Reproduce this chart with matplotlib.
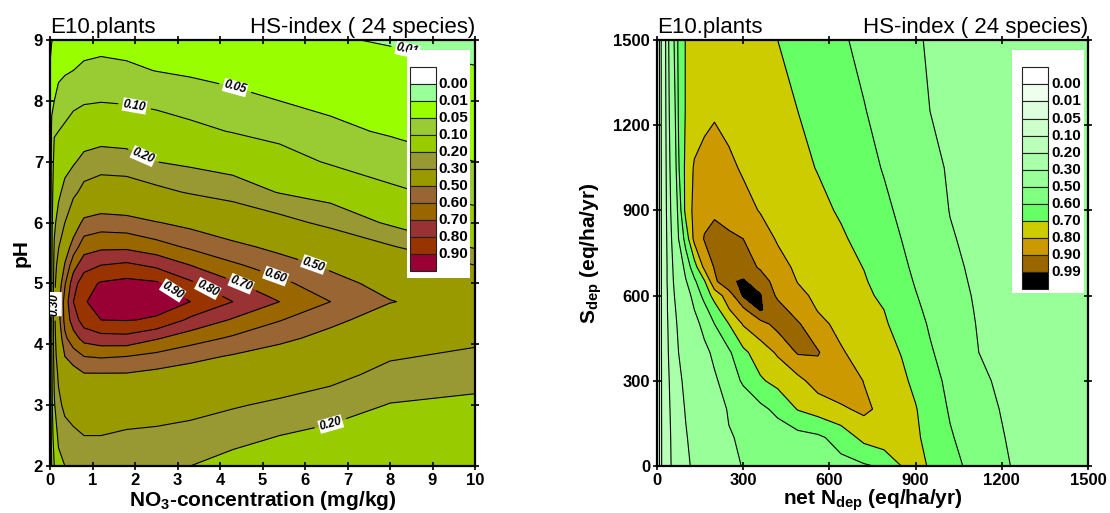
import numpy as np
import matplotlib
matplotlib.use("Agg")
import matplotlib.pyplot as plt
from matplotlib.patches import Rectangle

plt.rcParams['font.family'] = ['Liberation Sans', 'DejaVu Sans']
plt.rcParams['font.weight'] = 'bold'
plt.rcParams['mathtext.fontset'] = 'custom'
plt.rcParams['mathtext.rm'] = 'Liberation Sans:bold'
plt.rcParams['mathtext.bf'] = 'Liberation Sans:bold'
plt.rcParams['mathtext.default'] = 'rm'

# ---------------- left panel: HS-index vs NO3 and pH ----------------
no3 = [0, 0.04, 0.1, 0.2, 0.35, 0.55, 0.8, 1.2, 1.8, 2.5, 3.3, 4.3, 5.4, 6.6, 8.0, 10.0]
ph = [2.0, 2.5, 3.0, 3.5, 3.8, 4.1, 4.4, 4.7, 5.0, 5.3, 5.6, 6.0, 6.5, 7.0, 7.5, 8.0, 8.5, 9.0]
# one list per NO3 value, going up in pH
hs_left_cols = [
    [.02, .02, .02, .02, .02, .02, .02, .02, .02, .02, .02, .02, .02, .02, .02, .02, .012, .004],
    [.05, .06, .07, .08, .085, .09, .09, .09, .09, .085, .08, .075, .065, .06, .055, .045, .03, .008],
    [.10, .14, .19, .22, .24, .25, .26, .26, .25, .23, .21, .18, .15, .12, .095, .05, .035, .015],
    [.17, .22, .27, .32, .37, .42, .46, .47, .43, .36, .29, .24, .18, .14, .10, .065, .04, .02],
    [.20, .25, .33, .42, .50, .58, .63, .64, .59, .51, .43, .30, .23, .165, .11, .075, .045, .025],
    [.21, .27, .37, .45, .55, .66, .75, .80, .76, .66, .55, .42, .27, .19, .13, .085, .05, .03],
    [.21, .30, .39, .49, .60, .735, .85, .89, .86, .76, .655, .53, .34, .225, .15, .093, .057, .035],
    [.22, .30, .40, .49, .61, .765, .90, .945, .91, .80, .68, .55, .38, .24, .16, .097, .061, .037],
    [.22, .28, .38, .49, .60, .77, .905, .95, .93, .82, .68, .54, .37, .235, .153, .093, .057, .035],
    [.21, .27, .37, .47, .57, .71, .89, .935, .915, .78, .64, .505, .33, .20, .135, .085, .049, .03],
    [.20, .26, .34, .45, .53, .645, .78, .90, .82, .70, .585, .47, .29, .18, .115, .075, .043, .025],
    [.165, .23, .31, .41, .49, .585, .69, .80, .715, .615, .53, .41, .25, .16, .097, .062, .036, .022],
    [.145, .20, .28, .37, .44, .53, .605, .70, .625, .55, .47, .34, .195, .128, .08, .05, .03, .018],
    [.135, .17, .25, .33, .39, .46, .53, .60, .54, .48, .40, .27, .16, .093, .06, .04, .022, .012],
    [.13, .155, .195, .27, .31, .37, .44, .505, .46, .39, .31, .185, .11, .075, .045, .03, .018, .008],
    [.12, .14, .17, .25, .28, .32, .39, .44, .38, .30, .19, .125, .08, .05, .033, .02, .011, .005],
]
levels_left = [0, 0.01, 0.05, 0.10, 0.20, 0.30, 0.50, 0.60, 0.70, 0.80, 0.90, 1.0]
colors_left = ['#99ff99', '#99ff00', '#99cc33', '#99cc00', '#999933', '#999900',
               '#996633', '#996600', '#993333', '#993300', '#990033']
legend_labels_left = ['0.00', '0.01', '0.05', '0.10', '0.20', '0.30', '0.50',
                      '0.60', '0.70', '0.80', '0.90']

# ---------------- right panel: HS-index vs N and S deposition ----------------
ndep = [0, 4, 10, 20, 35, 55, 75, 100, 130, 165, 200, 250, 300, 360, 420, 490,
        560, 640, 720, 790, 850, 900, 950, 1020, 1120, 1250, 1500]
sdep = [0, 100, 200, 300, 400, 500, 550, 600, 650, 700, 800, 900, 1050, 1250, 1500]
# one list per S value, going up in N
hs_right_rows = [
    [0, .03, .072, .117, .167, .214, .243, .279, .319, .362, .406, .469, .505, .517, .529, .543, .556, .572, .588, .614, .70, .731, .691, .631, .561, .489, .40],
    [0, .03, .072, .117, .169, .218, .251, .292, .333, .38, .427, .493, .512, .528, .545, .564, .582, .637, .729, .765, .742, .713, .675, .609, .545, .481, .397],
    [0, .03, .072, .119, .174, .225, .262, .307, .35, .40, .45, .509, .539, .576, .625, .705, .742, .784, .821, .772, .735, .705, .657, .591, .53, .475, .395],
    [0, .03, .072, .12, .18, .233, .278, .324, .372, .428, .484, .55, .613, .688, .729, .771, .845, .87, .797, .755, .718, .681, .633, .578, .516, .468, .392],
    [0, .03, .072, .122, .187, .246, .30, .348, .405, .471, .524, .585, .678, .751, .813, .91, .908, .809, .764, .729, .697, .653, .609, .563, .50, .462, .39],
    [0, .03, .072, .123, .191, .258, .318, .383, .461, .536, .60, .70, .808, .866, .933, .912, .824, .776, .741, .71, .67, .629, .591, .548, .494, .457, .387],
    [0, .03, .072, .123, .195, .268, .333, .409, .50, .573, .652, .794, .88, .997, .94, .855, .796, .763, .729, .70, .654, .615, .582, .54, .491, .455, .386],
    [0, .03, .072, .124, .195, .279, .355, .445, .538, .628, .741, .851, .999, .995, .883, .821, .782, .75, .718, .683, .64, .604, .574, .533, .488, .453, .385],
    [0, .03, .072, .124, .20, .291, .38, .491, .582, .69, .88, .98, .998, .95, .857, .797, .77, .739, .708, .667, .627, .594, .565, .524, .485, .451, .386],
    [0, .03, .072, .125, .20, .30, .414, .536, .655, .825, .906, .97, .95, .887, .829, .785, .759, .729, .698, .654, .616, .586, .557, .517, .483, .45, .388],
    [0, .03, .072, .126, .206, .326, .50, .637, .829, .907, .923, .918, .90, .838, .792, .766, .741, .712, .673, .634, .60, .572, .544, .506, .479, .449, .39],
    [0, .03, .072, .128, .213, .35, .536, .73, .828, .867, .889, .858, .828, .795, .773, .747, .722, .69, .651, .616, .586, .559, .532, .498, .476, .447, .391],
    [0, .03, .072, .129, .219, .378, .59, .725, .812, .84, .853, .817, .79, .769, .747, .722, .696, .661, .626, .595, .566, .541, .517, .493, .472, .445, .393],
    [0, .03, .072, .131, .227, .42, .61, .707, .735, .767, .787, .772, .757, .739, .721, .70, .671, .638, .604, .573, .545, .523, .50, .487, .468, .443, .395],
    [0, .03, .072, .133, .233, .467, .621, .706, .725, .746, .768, .768, .748, .724, .70, .672, .643, .611, .579, .552, .528, .508, .493, .478, .455, .426, .37],
]
levels_right = [0, 0.01, 0.05, 0.10, 0.20, 0.30, 0.50, 0.60, 0.70, 0.80, 0.90, 0.99, 1.0]
colors_right = ['#eeffee', '#ddffdd', '#ccffcc', '#bbffbb', '#aaffaa', '#99ff99',
                '#80ff80', '#66ff66', '#cccc00', '#cc9900', '#996600', '#000000']
legend_labels_right = ['0.00', '0.01', '0.05', '0.10', '0.20', '0.30', '0.50',
                       '0.60', '0.70', '0.80', '0.90', '0.99']

title_left = 'E10.plants'
title_right = 'HS-index ( 24 species)'

# ---------------- figure ----------------
W, H = 1110, 513
fig = plt.figure(figsize=(W / 100, H / 100), dpi=100)
ax1 = fig.add_axes([50 / W, 47 / H, 425 / W, 426 / H])
ax2 = fig.add_axes([657 / W, 47 / H, 431 / W, 426 / H])


def draw_legend(ax, cols, labels, box, top, h):
    ax.add_patch(Rectangle((box[0], box[1]), box[2] - box[0], box[3] - box[1],
                           transform=ax.transAxes, facecolor='white',
                           edgecolor='none', zorder=5))
    allc = ['#ffffff'] + list(cols)
    for i, c in enumerate(allc):
        y = top - (i + 1) * h
        ax.add_patch(Rectangle((0.846, y), 0.062, h, transform=ax.transAxes,
                               facecolor=c, edgecolor='#222222', lw=0.8, zorder=6))
    for i, lab in enumerate(labels):
        y = top - (i + 1) * h
        ax.text(0.914, y, lab, transform=ax.transAxes, va='center', ha='left',
                fontsize=11, fontweight='bold', zorder=7)


def style_axes(ax):
    for sp in ax.spines.values():
        sp.set_linewidth(1.6)
    ax.tick_params(direction='inout', length=6, width=1.2, top=True, right=True,
                   labelsize=12, pad=2)
    for lab in ax.get_xticklabels() + ax.get_yticklabels():
        lab.set_fontweight('bold')


# left panel
Z1 = np.array(hs_left_cols).T
ax1.contourf(no3, ph, Z1, levels=levels_left, colors=colors_left)
cs1 = ax1.contour(no3, ph, Z1, levels=levels_left[1:-1], colors='k', linewidths=0.8)
lab_pos = [(4.35, 8.2), (2.0, 7.95), (2.2, 7.1), (6.6, 2.7), (2.9, 4.9),
           (3.7, 4.9), (4.5, 5.0), (5.3, 5.1), (6.2, 5.3), (0.16, 4.66),
           (8.4, 8.8)]
txts = ax1.clabel(cs1, levels=levels_left[1:-1], fmt='%.2f', inline=True,
                  fontsize=8.5, manual=lab_pos)
for t in txts:
    t.set_fontweight('bold')
    t.set_fontstyle('italic')
    t.set_bbox(dict(facecolor='white', edgecolor='none', pad=0.5))
ax1.set_xlim(0, 10)
ax1.set_ylim(2, 9)
ax1.set_xticks(range(0, 11))
ax1.set_yticks(range(2, 10))
style_axes(ax1)
ax1.set_xlabel('NO$_{3}$-concentration (mg/kg)', fontsize=15, fontweight='bold')
ax1.xaxis.set_label_coords(0.5, -0.055)
ax1.set_ylabel('pH', fontsize=15, fontweight='bold')
ax1.yaxis.set_label_coords(-0.045, 0.5)
ax1.text(0.0, 1.016, title_left, transform=ax1.transAxes, ha='left', va='baseline',
         fontsize=16, fontweight='normal')
ax1.text(1.0, 1.016, title_right, transform=ax1.transAxes, ha='right', va='baseline',
         fontsize=16, fontweight='normal')
draw_legend(ax1, colors_left, legend_labels_left, (0.840, 0.441, 0.988, 0.977),
            0.936, 0.0399)

# right panel
Z2 = np.array(hs_right_rows)
ax2.contourf(ndep, sdep, Z2, levels=levels_right, colors=colors_right)
ax2.contour(ndep, sdep, Z2, levels=levels_right[1:-1], colors='k', linewidths=0.8)
ax2.set_xlim(0, 1500)
ax2.set_ylim(0, 1500)
ax2.set_xticks(range(0, 1501, 300))
ax2.set_yticks(range(0, 1501, 300))
style_axes(ax2)
ax2.set_xlabel('net N$_{dep}$ (eq/ha/yr)', fontsize=15, fontweight='bold')
ax2.xaxis.set_label_coords(0.5, -0.05)
ax2.set_ylabel('S$_{dep}$ (eq/ha/yr)', fontsize=15, fontweight='bold')
ax2.yaxis.set_label_coords(-0.123, 0.5)
ax2.text(0.0, 1.016, title_left, transform=ax2.transAxes, ha='left', va='baseline',
         fontsize=16, fontweight='normal')
ax2.text(1.0, 1.016, title_right, transform=ax2.transAxes, ha='right', va='baseline',
         fontsize=16, fontweight='normal')
draw_legend(ax2, colors_right, legend_labels_right, (0.824, 0.406, 0.991, 0.977),
            0.936, 0.0401)

fig.savefig('out.png', dpi=100)
